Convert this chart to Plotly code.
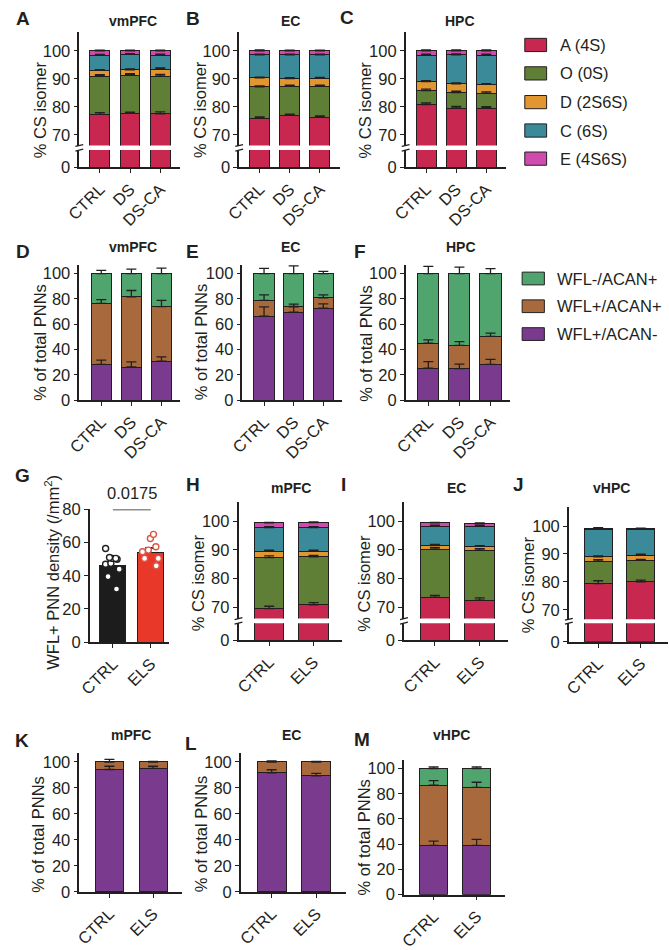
import numpy as np
import plotly.graph_objects as go

# ---------------- DATA ----------------
groups3 = ["CTRL", "DS", "DS-CA"]
groups2 = ["CTRL", "ELS"]
isomer_names = ["A (4S)", "O (0S)", "D (2S6S)", "C (6S)", "E (4S6S)"]
pnn_names = ["WFL+/ACAN-", "WFL+/ACAN+", "WFL-/ACAN+"]   # stacked bottom -> top
region_titles = ["vmPFC", "EC", "HPC", "mPFC", "vHPC"]

# A-C : % CS isomer (rows = A, O, D, C, E ; cols = CTRL, DS, DS-CA)
iso_vmpfc = [[77.3, 77.6, 77.5], [13.7, 13.7, 13.5], [2.0, 1.9, 2.5], [5.4, 5.6, 5.0], [1.6, 1.2, 1.5]]
iso_vmpfc_sem = [[0.6, 0.5, 0.7], [0.5, 0.5, 0.6], [0.3, 0.3, 0.4], [0.3, 0.2, 0.3], [0.2, 0.2, 0.2]]
iso_ec = [[75.9, 77.0, 76.2], [11.2, 10.3, 11.1], [3.2, 2.8, 2.9], [8.3, 8.5, 8.4], [1.4, 1.4, 1.4]]
iso_ec_sem = [[0.5, 0.4, 0.5], [0.4, 0.4, 0.4], [0.3, 0.3, 0.3], [0.2, 0.2, 0.2], [0.3, 0.2, 0.2]]
iso_hpc = [[80.8, 79.5, 79.5], [5.0, 5.6, 5.3], [3.2, 3.1, 3.2], [9.5, 10.4, 10.5], [1.5, 1.4, 1.5]]
iso_hpc_sem = [[0.6, 0.6, 0.5], [0.5, 0.5, 0.5], [0.3, 0.3, 0.3], [0.3, 0.3, 0.3], [0.3, 0.3, 0.3]]

# D-F : % of total PNNs (rows = WFL+/ACAN-, WFL+/ACAN+, WFL-/ACAN+)
pnn_vmpfc = [[28.4, 26.3, 30.9], [48.1, 55.4, 43.1], [23.5, 18.3, 26.0]]
pnn_vmpfc_sem = [[3.3, 4.0, 3.4], [3.0, 5.0, 4.9], [2.6, 3.6, 4.4]]
pnn_ec = [[66.5, 69.6, 72.7], [12.4, 4.6, 8.2], [21.1, 25.8, 19.1]]
pnn_ec_sem = [[7.2, 4.1, 3.4], [4.4, 1.8, 2.3], [4.1, 6.2, 1.8]]
pnn_hpc = [[25.3, 25.0, 28.4], [19.8, 18.3, 22.1], [54.9, 56.7, 49.5]]
pnn_hpc_sem = [[5.2, 3.6, 3.9], [2.6, 3.1, 2.6], [5.7, 5.2, 3.9]]

# G : WFL+ PNN density (/mm2)
g_mean = [46.3, 54.2]
g_sem = [2.2, 2.5]
g_ctrl_points = [56.5, 51.0, 50.5, 50.0, 50.5, 47.5, 47.0, 44.0, 39.5, 32.0]
g_els_points = [65.0, 62.5, 57.5, 55.5, 54.5, 50.5, 50.5, 46.0]
g_pvalue = "0.0175"

# H-J : % CS isomer, CTRL vs ELS
iso_mpfc_els = [[69.5, 70.8], [17.8, 16.8], [2.2, 1.9], [8.3, 8.3], [1.6, 1.7]]
iso_mpfc_els_sem = [[0.8, 0.8], [0.6, 0.5], [0.4, 0.4], [0.3, 0.3], [0.2, 0.3]]
iso_ec_els = [[73.5, 72.4], [16.8, 17.4], [1.3, 1.4], [6.7, 7.1], [1.1, 0.9]]
iso_ec_els_sem = [[0.6, 0.8], [0.6, 0.6], [0.3, 0.3], [0.3, 0.3], [0.2, 0.2]]
iso_vhpc_els = [[79.4, 80.0], [8.0, 7.7], [1.6, 1.9], [9.8, 9.2], [0.4, 0.3]]
iso_vhpc_els_sem = [[1.0, 0.6], [0.6, 0.4], [0.3, 0.3], [0.3, 0.3], [0.2, 0.2]]

# K-M : % of total PNNs, CTRL vs ELS
pnn_mpfc_els = [[94.2, 95.0], [5.8, 5.0], [0.0, 0.0]]
pnn_mpfc_els_sem = [[2.5, 1.7], [2.0, 0.5], [0.0, 0.0]]
pnn_ec_els = [[91.7, 89.4], [8.3, 10.6], [0.0, 0.0]]
pnn_ec_els_sem = [[2.3, 1.8], [0.8, 0.5], [0.0, 0.0]]
pnn_vhpc_els = [[39.1, 39.1], [47.7, 45.9], [13.2, 15.0]]
pnn_vhpc_els_sem = [[3.4, 4.7], [3.6, 4.1], [1.3, 1.3]]

# ---------------- STYLE ----------------
W, H = 669, 950
FONT = "Liberation Sans, Arial, Helvetica, sans-serif"
INK = "#231f20"
ISO_COLORS = ["#C8284F", "#5F7F37", "#E2962F", "#3A8A99", "#CF4BAE"]
PNN_COLORS = ["#7A3A8E", "#A86A3D", "#4FA56D"]
G_COLORS = ["#1c1c1c", "#E8382A"]
TICK_SIZE = 16.5


def fx(px):
    return px / W


def fy(py):
    return 1 - py / H


fig = go.Figure()
lay = dict(width=W, height=H, autosize=False, margin=dict(l=0, r=0, t=0, b=0),
           paper_bgcolor="white", plot_bgcolor="rgba(0,0,0,0)", barmode="stack",
           showlegend=False, font=dict(family=FONT, size=16, color=INK))
shapes, annots = [], []
counter = {"x": 0, "y": 0}

AX = dict(showline=True, linecolor=INK, linewidth=1.5, ticks="outside", ticklen=4,
          tickwidth=1.3, tickcolor=INK, showgrid=False, zeroline=False,
          tickfont=dict(family=FONT, size=TICK_SIZE, color=INK), fixedrange=True)


def new_id(letter):
    counter[letter] += 1
    return counter[letter]


def axname(letter, n):
    return f"{letter}axis" if n == 1 else f"{letter}axis{n}"


def axref(letter, n):
    return letter if n == 1 else f"{letter}{n}"


def text(t, px, py, size=16, bold=False, angle=0, xanchor="center"):
    annots.append(dict(text=f"<b>{t}</b>" if bold else t, x=fx(px), y=fy(py), xref="paper",
                       yref="paper", showarrow=False, textangle=angle, xanchor=xanchor,
                       yanchor="middle", font=dict(family=FONT, size=size, color=INK)))


def add_errors(groups, series, sems, xr, yr):
    tops = np.cumsum(np.array(series, dtype=float), axis=0)
    for top, err in zip(tops, sems):
        fig.add_trace(go.Scatter(
            x=groups, y=top, mode="markers", marker=dict(size=2, color="rgba(0,0,0,0)"),
            error_y=dict(type="data", array=err, arrayminus=[0] * len(err), symmetric=False,
                         color=INK, thickness=1.3, width=5),
            xaxis=xr, yaxis=yr, hoverinfo="skip"))


def x_axis(xi, groups, L, R, xrange, anchor):
    lay[axname("x", xi)] = dict(AX, domain=[fx(L), fx(R)], range=xrange, type="category",
                                categoryorder="array", categoryarray=groups, tickangle=-45,
                                anchor=anchor)


def broken_panel(groups, series, sems, box):
    L, R = box["L"], box["R"]
    xi, ylo, yup = new_id("x"), new_id("y"), new_id("y")
    xr, ylr, yur = axref("x", xi), axref("y", ylo), axref("y", yup)
    x_axis(xi, groups, L, R, box["xrange"], ylr)
    lay[axname("y", ylo)] = dict(AX, domain=[fy(box["lo"][1]), fy(box["lo"][0])],
                                 range=box["lo_range"], tickvals=[0], anchor=xr)
    lay[axname("y", yup)] = dict(AX, domain=[fy(box["up"][1]), fy(box["up"][0])],
                                 range=box["up_range"], tickvals=[70, 80, 90, 100], anchor=xr)
    for vals, nm, col in zip(series, isomer_names, ISO_COLORS):
        for yr in (ylr, yur):
            fig.add_trace(go.Bar(x=groups, y=vals, name=nm, width=box["bw"],
                                 marker=dict(color=col, line=dict(color=INK, width=1)),
                                 xaxis=xr, yaxis=yr))
    add_errors(groups, series, sems, xr, yur)
    for py in (box["up"][1], box["lo"][0]):
        shapes.append(dict(type="line", xref="paper", yref="paper", x0=fx(L - 4), x1=fx(L + 4),
                           y0=fy(py + 1), y1=fy(py - 1), line=dict(color=INK, width=1.3)))
    decorate(box, "% CS isomer")


def pnn_panel(groups, series, sems, box):
    L, R = box["L"], box["R"]
    xi, yi = new_id("x"), new_id("y")
    xr, yr = axref("x", xi), axref("y", yi)
    x_axis(xi, groups, L, R, box["xrange"], yr)
    lay[axname("y", yi)] = dict(AX, domain=[fy(box["bot"]), fy(box["top"])],
                                range=box["yrange"], tick0=0, dtick=20, anchor=xr)
    for vals, nm, col in zip(series, pnn_names, PNN_COLORS):
        fig.add_trace(go.Bar(x=groups, y=vals, name=nm, width=box["bw"],
                             marker=dict(color=col, line=dict(color=INK, width=1)),
                             xaxis=xr, yaxis=yr))
    add_errors(groups, series, sems, xr, yr)
    decorate(box, "% of total PNNs")


def decorate(box, ylabel):
    text(box["letter"], box["lp"][0], box["lp"][1], size=19, bold=True)
    text(box["title"], box["tp"][0], box["tp"][1], size=14, bold=True)
    text(ylabel, box["yl"][0], box["yl"][1], size=16.5, angle=-90)


# ---- Row 1: A-C ----
row1 = dict(up=(23, 139.3), lo=(144, 161.7), up_range=[66.14, 106.9], lo_range=[0, 6.2],
            xrange=[-0.68, 2.67], bw=0.66)
broken_panel(groups3, iso_vmpfc, iso_vmpfc_sem,
             dict(row1, L=66.7, R=170, letter="A", lp=(9, 10), title=region_titles[0],
                  tp=(122, 12.5), yl=(27, 103)))
broken_panel(groups3, iso_ec, iso_ec_sem,
             dict(row1, L=230, R=333, letter="B", lp=(183, 10), title=region_titles[1],
                  tp=(282, 12.5), yl=(190, 103)))
broken_panel(groups3, iso_hpc, iso_hpc_sem,
             dict(row1, L=400, R=503, letter="C", lp=(340, 9), title=region_titles[2],
                  tp=(456, 12.5), yl=(358, 103)))

# ---- Row 2: D-F ----
row2 = dict(top=261, bot=399.3, yrange=[0, 107], xrange=[-0.73, 2.63], bw=0.68)
pnn_panel(groups3, pnn_vmpfc, pnn_vmpfc_sem,
          dict(row2, L=66.7, R=170, letter="D", lp=(9, 247), title=region_titles[0],
               tp=(122, 243), yl=(27, 340)))
pnn_panel(groups3, pnn_ec, pnn_ec_sem,
          dict(row2, L=233.3, R=335, letter="E", lp=(182, 247), title=region_titles[1],
               tp=(282, 243), yl=(191, 340)))
pnn_panel(groups3, pnn_hpc, pnn_hpc_sem,
          dict(row2, L=400, R=506.7, letter="F", lp=(353, 247), title=region_titles[2],
               tp=(457, 243), yl=(360, 341)))

# ---- Row 3: G ----
gx, gy = new_id("x"), new_id("y")
gxr, gyr = axref("x", gx), axref("y", gy)
x_axis(gx, groups2, 77.3, 158, [-0.612, 1.473], gyr)
lay[axname("y", gy)] = dict(AX, domain=[fy(646), fy(510.7)], range=[0, 80], tick0=0, dtick=20,
                            anchor=gxr)
fig.add_trace(go.Bar(x=groups2, y=g_mean, width=0.69,
                     marker=dict(color=G_COLORS, line=dict(color=INK, width=1)),
                     error_y=dict(type="data", array=g_sem, arrayminus=[0, 0], symmetric=False,
                                  color=INK, thickness=1.3, width=6),
                     xaxis=gxr, yaxis=gyr))
for grp, pts, edge in ((groups2[0], g_ctrl_points, INK), (groups2[1], g_els_points, "#D9574A")):
    fig.add_trace(go.Box(x=[grp] * len(pts), y=pts, boxpoints="all", jitter=0.9, pointpos=0,
                         width=0.62, fillcolor="rgba(0,0,0,0)",
                         line=dict(width=0, color="rgba(0,0,0,0)"),
                         marker=dict(color="white", size=6, line=dict(color=edge, width=1.4)),
                         xaxis=gxr, yaxis=gyr, hoverinfo="skip"))
shapes.append(dict(type="line", xref=gxr, yref=gyr, x0=0, x1=len(groups2) - 1, y0=80, y1=80,
                   line=dict(color=INK, width=1.4)))
annots.append(dict(text=g_pvalue, x=0.5, y=80, xref=gxr, yref=gyr, showarrow=False,
                   yanchor="bottom", yshift=5, font=dict(family=FONT, size=16.5, color=INK)))
text("G", 9, 476, size=19, bold=True)
text("WFL+ PNN density (/mm<sup>2</sup>)", 38, 575, size=16.5, angle=-90)

# ---- Row 3: H-J ----
row3 = dict(xrange=[-0.69, 1.64], bw=0.66)
hi = dict(row3, up=(502.7, 622), lo=(626.7, 644.3), up_range=[66.0, 106.85], lo_range=[0, 6])
broken_panel(groups2, iso_mpfc_els, iso_mpfc_els_sem,
             dict(hi, L=229.3, R=335, letter="H", lp=(183, 485), title=region_titles[3],
                  tp=(283, 488.5), yl=(188, 586)))
broken_panel(groups2, iso_ec_els, iso_ec_els_sem,
             dict(hi, L=398.3, R=505, letter="I", lp=(337, 485), title=region_titles[1],
                  tp=(452, 488.5), yl=(358, 586)))
broken_panel(groups2, iso_vhpc_els, iso_vhpc_els_sem,
             dict(row3, up=(508.3, 622.7), lo=(626.7, 645.7), up_range=[66.6, 106.8],
                  lo_range=[0, 6.7], L=566.7, R=668, letter="J", lp=(515, 485),
                  title=region_titles[4], tp=(610, 488.5), yl=(525, 588)))

# ---- Row 4: K-M ----
row4 = dict(xrange=[-0.69, 1.665], bw=0.645)
pnn_panel(groups2, pnn_mpfc_els, pnn_mpfc_els_sem,
          dict(row4, top=759.3, bot=901, yrange=[0, 106.8], L=66.7, R=171.7, letter="K",
               lp=(8, 746), title=region_titles[3], tp=(120, 741), yl=(25, 842)))
pnn_panel(groups2, pnn_ec_els, pnn_ec_els_sem,
          dict(row4, top=759.3, bot=901, yrange=[0, 106.8], L=231.7, R=339, letter="L",
               lp=(181, 749), title=region_titles[1], tp=(283, 741), yl=(191, 842)))
pnn_panel(groups2, pnn_vhpc_els, pnn_vhpc_els_sem,
          dict(row4, top=766, bot=903.7, yrange=[0, 107], L=398.3, R=501.7, letter="M",
               lp=(355, 745), title=region_titles[4], tp=(447, 741), yl=(358, 846)))


# ---- Legends ----
def legend_block(names, colors, x0, x1, ys, h, tx):
    for nm, col, yc in zip(names, colors, ys):
        shapes.append(dict(type="rect", xref="paper", yref="paper", x0=fx(x0), x1=fx(x1),
                           y0=fy(yc + h / 2), y1=fy(yc - h / 2), fillcolor=col,
                           line=dict(color=INK, width=1)))
        text(nm, tx, yc, size=16.5, xanchor="left")


legend_block(isomer_names, ISO_COLORS, 521.7, 544, [36.7, 65.7, 95, 124, 152.7], 13.5, 556)
legend_block(pnn_names[::-1], PNN_COLORS[::-1], 519, 541.7, [275, 303.3, 331.7], 13, 553)

lay["shapes"] = shapes
lay["annotations"] = annots
fig.update_layout(**lay)
fig.write_html("out.html", config={"displayModeBar": False},
               post_script="document.body.style.margin='0px';"
                           "document.body.style.overflow='hidden';")
